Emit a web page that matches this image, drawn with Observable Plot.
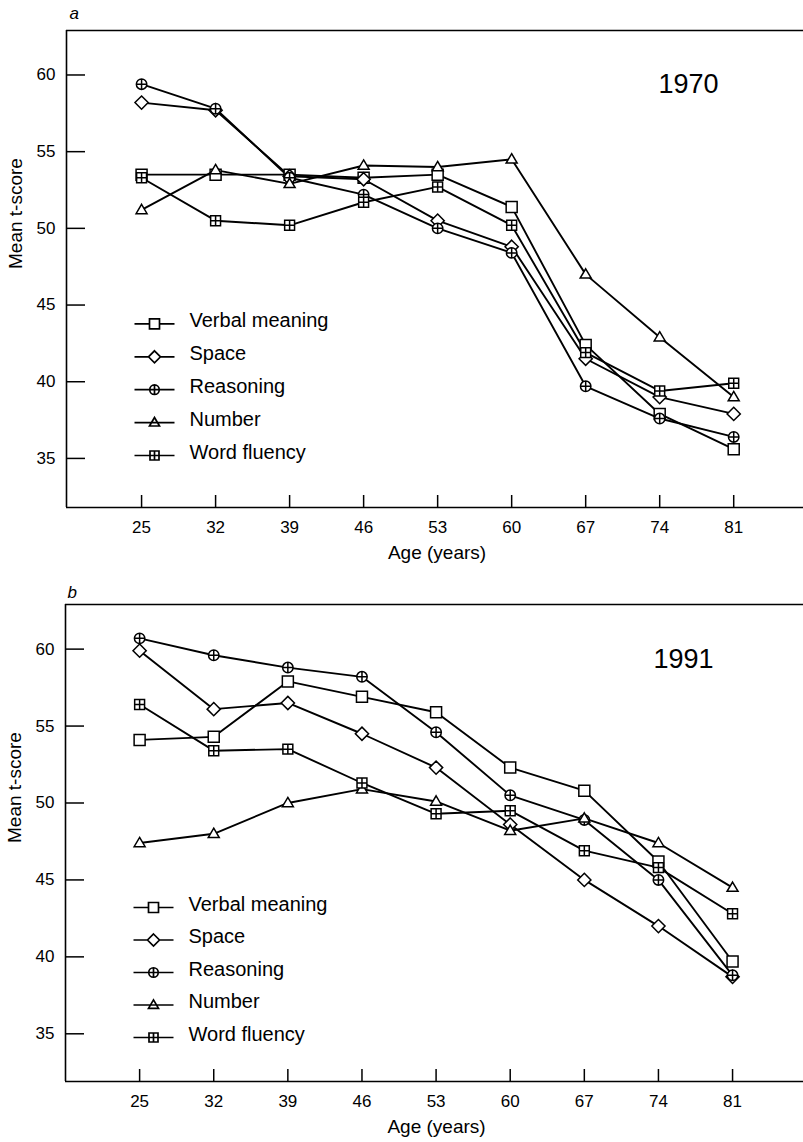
<!DOCTYPE html>
<html><head><meta charset="utf-8">
<script src="https://cdn.jsdelivr.net/npm/d3@7"></script>
<script src="https://cdn.jsdelivr.net/npm/@observablehq/plot@0.6"></script>
<style>
body{margin:0;background:#fff;}
#chart svg{display:block;}
</style>
</head><body><div id="chart"></div>
<script>
// ---- data ----
const ages = [25, 32, 39, 46, 53, 60, 67, 74, 81];
const seriesNames = ["Verbal meaning", "Space", "Reasoning", "Number", "Word fluency"];
const yTicks = [35, 40, 45, 50, 55, 60];

const verbal1970    = [53.5, 53.5, 53.5, 53.3, 53.5, 51.4, 42.4, 37.9, 35.6];
const space1970     = [58.2, 57.7, 53.4, 53.2, 50.5, 48.8, 41.5, 39.0, 37.9];
const reasoning1970 = [59.4, 57.8, 53.3, 52.2, 50.0, 48.4, 39.7, 37.6, 36.4];
const number1970    = [51.2, 53.8, 52.9, 54.1, 54.0, 54.5, 47.0, 42.9, 39.0];
const fluency1970   = [53.3, 50.5, 50.2, 51.7, 52.7, 50.2, 41.9, 39.4, 39.9];

const verbal1991    = [54.1, 54.3, 57.9, 56.9, 55.9, 52.3, 50.8, 46.2, 39.7];
const space1991     = [59.9, 56.1, 56.5, 54.5, 52.3, 48.6, 45.0, 42.0, 38.7];
const reasoning1991 = [60.7, 59.6, 58.8, 58.2, 54.6, 50.5, 48.9, 45.0, 38.8];
const number1991    = [47.4, 48.0, 50.0, 50.9, 50.1, 48.2, 49.0, 47.4, 44.5];
const fluency1991   = [56.4, 53.4, 53.5, 51.3, 49.3, 49.5, 46.9, 45.8, 42.8];

// ---- symbols ----
// withLine: also draws the legend's horizontal line segments on both sides
function makeSymbol(kind, withLine) {
  return {
    draw(ctx, size) {
      const r = Math.sqrt(size / Math.PI);
      let half = r;
      if (kind === "square") {
        ctx.rect(-r, -r, 2 * r, 2 * r);
      } else if (kind === "diamond") {
        const d = r * 1.2; half = d;
        ctx.moveTo(0, -d); ctx.lineTo(d, 0); ctx.lineTo(0, d); ctx.lineTo(-d, 0); ctx.closePath();
      } else if (kind === "circlePlus") {
        const c = r * 0.95; half = c;
        ctx.moveTo(c, 0); ctx.arc(0, 0, c, 0, 2 * Math.PI); ctx.closePath();
        ctx.moveTo(-c, 0); ctx.lineTo(c, 0); ctx.moveTo(0, -c); ctx.lineTo(0, c);
      } else if (kind === "triangle") {
        const w = r, h = r * 1.7; half = 0;
        ctx.moveTo(0, -h * 0.6); ctx.lineTo(w, h * 0.4); ctx.lineTo(-w, h * 0.4); ctx.closePath();
      } else if (kind === "squarePlus") {
        const s = r * 0.9; half = s;
        ctx.rect(-s, -s, 2 * s, 2 * s);
        ctx.moveTo(-s, 0); ctx.lineTo(s, 0); ctx.moveTo(0, -s); ctx.lineTo(0, s);
      }
      if (withLine) {
        ctx.moveTo(-20, 0); ctx.lineTo(-half, 0);
        ctx.moveTo(half, 0); ctx.lineTo(20, 0);
      }
    }
  };
}
const symbolKinds = ["square", "diamond", "circlePlus", "triangle", "squarePlus"];
const symbols = symbolKinds.map(k => makeSymbol(k, false));
const legendSymbols = symbolKinds.map(k => makeSymbol(k, true));

const W = 803;
const fontFamily = "'Liberation Sans', Arial, sans-serif";

function panel({values, letter, year, height, marginTop, marginBottom, marginLeft, yDomain, xDomain,
                legendBottom, legendStep, yearDx, yearDy, letterDx, letterDy}) {
  const rows = [];
  seriesNames.forEach((s, si) => ages.forEach((a, i) => rows.push({series: s, age: a, value: values[si][i], si})));
  const plotH = height - marginTop - marginBottom;
  const plotW = W - marginLeft;
  const marks = [
    // frame (top, left, bottom)
    Plot.ruleY([yDomain[1]], {stroke: "black", strokeWidth: 1.6}),
    Plot.ruleY([yDomain[0]], {stroke: "black", strokeWidth: 1.6}),
    Plot.ruleX([xDomain[0]], {stroke: "black", strokeWidth: 1.6}),
    // inward ticks
    Plot.tickY(yTicks, {y: d => d, insetRight: plotW - 19, stroke: "black", strokeWidth: 1.5}),
    Plot.tickX(ages, {x: d => d, insetTop: plotH - 12, stroke: "black", strokeWidth: 1.5}),
    // series lines
    Plot.line(rows, {x: "age", y: "value", z: "series", stroke: "black", strokeWidth: 1.9}),
    // markers
    ...seriesNames.map((s, si) => Plot.dot(rows.filter(d => d.si === si), {
      x: "age", y: "value", symbol: symbols[si], r: 5.5, fill: "white", stroke: "black", strokeWidth: 1.5
    })),
    // legend
    ...seriesNames.flatMap((s, si) => {
      const dy = -(legendBottom + (seriesNames.length - 1 - si) * legendStep);
      return [
        Plot.dot([s], {frameAnchor: "bottom-left", dx: 88, dy, symbol: legendSymbols[si], r: 5, fill: "white", stroke: "black", strokeWidth: 1.7}),
        Plot.text([s], {frameAnchor: "bottom-left", dx: 123, dy: dy + 3, text: d => d, textAnchor: "start", fontSize: 20, fill: "black"})
      ];
    }),
    // year label
    Plot.text([year], {frameAnchor: "top-right", dx: yearDx, dy: yearDy, text: d => d, textAnchor: "end", fontSize: 27, fill: "black"}),
    // panel letter
    Plot.text([letter], {frameAnchor: "top-left", dx: letterDx, dy: letterDy, text: d => d, textAnchor: "start", fontSize: 17, fontStyle: "italic", fill: "black"}),
    // axis titles
    Plot.text(["Age (years)"], {frameAnchor: "bottom", dx: 2, dy: 51, text: d => d, fontSize: 19, fill: "black"}),
    Plot.text(["Mean t-score"], {frameAnchor: "left", dx: -51, rotate: -90, text: d => d, fontSize: 19, fill: "black"})
  ];
  return Plot.plot({
    width: W, height, marginTop, marginBottom, marginLeft, marginRight: 0,
    style: {fontFamily, fontSize: "17px", color: "black", background: "white", overflow: "visible"},
    x: {domain: xDomain, ticks: ages, tickSize: 0, tickPadding: 13, label: null, tickFormat: d => String(d)},
    y: {domain: yDomain, ticks: yTicks, tickSize: 0, tickPadding: 11, label: null, tickFormat: d => String(d)},
    marks
  });
}

const chart = document.getElementById("chart");
chart.appendChild(panel({
  values: [verbal1970, space1970, reasoning1970, number1970, fluency1970],
  letter: "a", year: "1970", height: 578, marginTop: 30, marginBottom: 71, marginLeft: 66,
  yDomain: [31.8, 62.9], xDomain: [17.9, 87.6], legendBottom: 52, legendStep: 32.9,
  yearDx: -85, yearDy: 43, letterDx: 3, letterDy: -24
}));
chart.appendChild(panel({
  values: [verbal1991, space1991, reasoning1991, number1991, fluency1991],
  letter: "b", year: "1991", height: 564, marginTop: 26, marginBottom: 61, marginLeft: 65,
  yDomain: [31.9, 62.9], xDomain: [18.0, 87.7], legendBottom: 44, legendStep: 32.5,
  yearDx: -90, yearDy: 44, letterDx: 2, letterDy: -19
}));
</script>
</body></html>
